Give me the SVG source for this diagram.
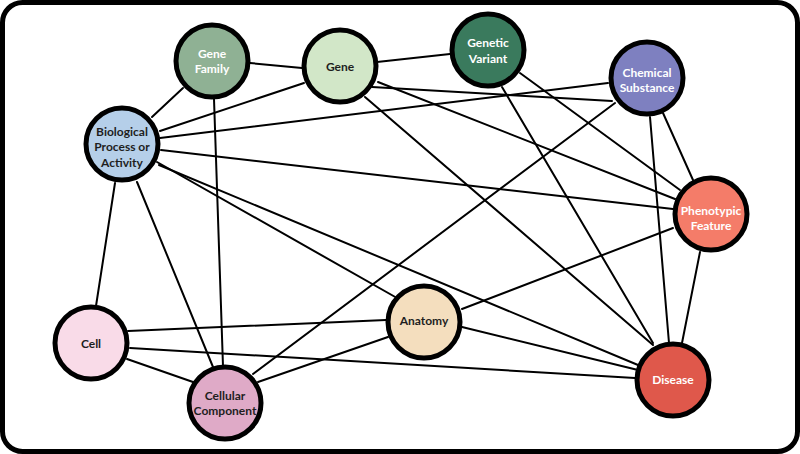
<svg xmlns="http://www.w3.org/2000/svg" width="800" height="454" viewBox="0 0 800 454">
<style>
.frame{fill:#fff;stroke:#000;stroke-width:5}
.edges line{stroke:#000;stroke-width:2;stroke-linecap:round}
.node circle{stroke:#000;stroke-width:5}
.node text{font-family:"Lato","Open Sans",sans-serif;font-weight:700;font-size:12px;text-anchor:middle}
.dk{fill:#1e1e1e}
.lt{fill:#fff}
</style>
<rect class="frame" x="2.5" y="2.5" width="795" height="449" rx="20"/>
<g id="connectors" class="edges">
<line x1="250" y1="63" x2="302" y2="68"/>
<line x1="183" y1="88" x2="152" y2="117"/>
<line x1="214" y1="99" x2="223" y2="366"/>
<line x1="377" y1="62" x2="450" y2="54"/>
<line x1="304" y1="83" x2="160" y2="131"/>
<line x1="372" y1="87" x2="612" y2="101"/>
<line x1="378" y1="82" x2="675" y2="199"/>
<line x1="365" y1="97" x2="653" y2="345"/>
<line x1="160" y1="138" x2="608" y2="83"/>
<line x1="161" y1="150" x2="673" y2="209"/>
<line x1="157" y1="162" x2="397" y2="298"/>
<line x1="159" y1="165" x2="638" y2="365"/>
<line x1="115" y1="183" x2="96" y2="306"/>
<line x1="137" y1="182" x2="213" y2="367"/>
<line x1="520" y1="73" x2="680" y2="190"/>
<line x1="502" y1="87" x2="653" y2="343"/>
<line x1="663" y1="113" x2="693" y2="180"/>
<line x1="650" y1="117" x2="669" y2="343"/>
<line x1="615" y1="103" x2="253" y2="374"/>
<line x1="673" y1="228" x2="462" y2="309"/>
<line x1="700" y1="252" x2="682" y2="343"/>
<line x1="386" y1="320" x2="128" y2="331"/>
<line x1="388" y1="337" x2="258" y2="382"/>
<line x1="462" y1="327" x2="638" y2="370"/>
<line x1="127" y1="359" x2="193" y2="382"/>
<line x1="130" y1="348" x2="635" y2="378"/>
</g>
<g id="gene-family" class="node"><circle cx="212" cy="61" r="36" fill="#8fb194"/><text class="lt" x="212" y="58">Gene</text><text class="lt" x="212" y="73">Family</text></g>
<g id="gene" class="node"><circle cx="340" cy="66" r="36" fill="#d2e7c8"/><text class="dk" x="340" y="71">Gene</text></g>
<g id="genetic-variant" class="node"><circle cx="488" cy="50" r="36" fill="#3a7a5d"/><text class="lt" x="488" y="47">Genetic</text><text class="lt" x="488" y="63">Variant</text></g>
<g id="chemical-substance" class="node"><circle cx="647" cy="78" r="36" fill="#7e80c0"/><text class="lt" x="647" y="77">Chemical</text><text class="lt" x="647" y="92">Substance</text></g>
<g id="biological-process" class="node"><circle cx="122" cy="144" r="36" fill="#b5cfe9"/><text class="dk" x="122" y="136">Biological</text><text class="dk" x="122" y="151">Process or</text><text class="dk" x="122" y="167">Activity</text></g>
<g id="phenotypic-feature" class="node"><circle cx="711" cy="214" r="36" fill="#f47c69"/><text class="lt" x="711" y="215">Phenotypic</text><text class="lt" x="711" y="230">Feature</text></g>
<g id="cell" class="node"><circle cx="91" cy="343" r="36" fill="#f9dbe8"/><text class="dk" x="91" y="348">Cell</text></g>
<g id="cellular-component" class="node"><circle cx="225" cy="403" r="36" fill="#dfaac7"/><text class="dk" x="225" y="400">Cellular</text><text class="dk" x="225" y="415">Component</text></g>
<g id="anatomy" class="node"><circle cx="424" cy="322" r="36" fill="#f4debe"/><text class="dk" x="424" y="325">Anatomy</text></g>
<g id="disease" class="node"><circle cx="673" cy="380" r="36" fill="#df584b"/><text class="lt" x="673" y="384">Disease</text></g>
</svg>
